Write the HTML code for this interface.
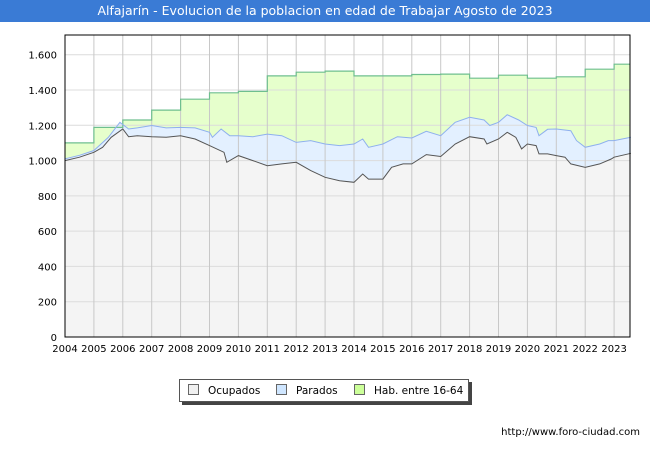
<!DOCTYPE html>
<html><head><meta charset="utf-8"><style>
body{margin:0;background:#fff;font-family:"DejaVu Sans","Liberation Sans",sans-serif}
#wrap{position:relative;width:650px;height:450px;overflow:hidden}
#title{position:absolute;left:0;top:0;width:650px;height:22px;background:#3a7bd5;color:#fff;font-size:12.5px;line-height:22px;text-align:center;white-space:nowrap}
#foot{position:absolute;right:10px;top:427px;font-size:10px;color:#000}
#legend{position:absolute;left:179px;top:379px;width:288px;height:21px;border:1px solid #555;background:#fff;box-shadow:3px 3px 0 #444;font-size:10.5px;white-space:nowrap}
.li{position:absolute;top:4px;white-space:nowrap}
.sw{display:inline-block;width:9px;height:9px;border:1px solid #666;margin-right:9px;vertical-align:-1px}
</style></head><body>
<div id="wrap">
<div id="title">Alfajarín - Evolucion de la poblacion en edad de Trabajar Agosto de 2023</div>
<svg id="svg" width="650" height="450" style="position:absolute;left:0;top:0"></svg>
<div id="legend">
<span class="li" style="left:8px"><span class="sw" style="background:#f0f0f0"></span>Ocupados</span>
<span class="li" style="left:96px"><span class="sw" style="background:#cfe6ff"></span>Parados</span>
<span class="li" style="left:174px"><span class="sw" style="background:#ccff99"></span>Hab. entre 16-64</span>
</div>
<div id="foot">http://www.foro-ciudad.com</div>
</div>
<script>
const habYears=[2004,2005,2006,2007,2008,2009,2010,2011,2012,2013,2014,2015,2016,2017,2018,2019,2020,2021,2022,2023];
const habValues=[1100,1188,1230,1286,1348,1384,1392,1480,1501,1507,1480,1480,1488,1490,1467,1484,1467,1475,1518,1546];
const blueT=[2004,2004.5,2005,2005.5,2005.9,2006.2,2006.5,2007,2007.5,2008,2008.5,2009,2009.1,2009.4,2009.7,2010,2010.5,2011,2011.5,2012,2012.5,2013,2013.5,2014,2014.3,2014.5,2015,2015.5,2016,2016.5,2017,2017.5,2018,2018.5,2018.7,2019,2019.3,2019.7,2020,2020.3,2020.4,2020.7,2021,2021.5,2021.7,2022,2022.5,2022.8,2023,2023.58];
const blueV=[1010,1030,1057,1132,1217,1179,1185,1199,1185,1188,1185,1160,1132,1179,1141,1141,1135,1150,1141,1103,1113,1094,1085,1094,1122,1075,1094,1135,1128,1166,1141,1217,1245,1230,1199,1217,1260,1230,1199,1188,1141,1177,1179,1169,1113,1075,1094,1113,1113,1132];
const grayT=[2004,2004.5,2005,2005.3,2005.6,2006,2006.2,2006.5,2007,2007.5,2008,2008.5,2009,2009.5,2009.6,2010,2010.5,2011,2011.5,2012,2012.5,2013,2013.5,2014,2014.3,2014.5,2015,2015.3,2015.7,2016,2016.5,2017,2017.5,2018,2018.5,2018.6,2019,2019.3,2019.6,2019.8,2020,2020.3,2020.4,2020.7,2021,2021.3,2021.5,2022,2022.5,2022.9,2023,2023.58];
const grayV=[1000,1019,1047,1075,1132,1179,1135,1141,1135,1132,1141,1122,1085,1047,990,1028,1000,971,981,990,943,905,886,877,924,895,895,962,981,981,1034,1023,1094,1135,1122,1094,1122,1160,1132,1066,1094,1085,1038,1038,1028,1019,981,962,981,1009,1019,1041];
const yTicks=[0,200,400,600,800,1000,1200,1400,1600];
const xTicks=[2004,2005,2006,2007,2008,2009,2010,2011,2012,2013,2014,2015,2016,2017,2018,2019,2020,2021,2022,2023];
const L=65,R=630,T=35,B=337,t0=2004,t1=2023.55;
const X=t=>L+(t-t0)/(t1-t0)*(R-L);
const Y=v=>B-v/1600*(B-54.7);
const svg=document.getElementById('svg');const NS='http://www.w3.org/2000/svg';
function mk(tag,at,name){const e=document.createElementNS(NS,tag);for(const k in at)e.setAttribute(k,at[k]);


svg.appendChild(e);return e;}
mk('rect',{x:L,y:T,width:R-L,height:B-T,fill:'#fff'},'plot-background');
let hp=[];habYears.forEach((y,i)=>{const x0=X(Math.max(y,t0)),x1=X(i<habYears.length-1?habYears[i+1]:t1);hp.push([x0,Y(habValues[i])],[x1,Y(habValues[i])]);});
const line=p=>p.map((q,i)=>(i?'L':'M')+q[0].toFixed(1)+','+q[1].toFixed(1)).join('');
const bp=blueT.map((t,i)=>[X(t),Y(blueV[i])]);
const gp=grayT.map((t,i)=>[X(t),Y(grayV[i])]);
mk('path',{d:line(hp)+'L'+X(t1)+','+B+'L'+L+','+B+'Z',fill:'#e6ffcc'},'area-hab');
mk('path',{d:line(bp)+'L'+X(t1)+','+B+'L'+L+','+B+'Z',fill:'#e3f0ff'},'area-parados');
mk('path',{d:line(gp)+'L'+X(t1)+','+B+'L'+L+','+B+'Z',fill:'#f4f4f4'},'area-ocupados');
yTicks.forEach(v=>{if(v>0)mk('line',{x1:L,x2:R,y1:Y(v),y2:Y(v),stroke:'#dcdcdc','stroke-width':1},'y-gridline');
const t=mk('text',{x:L-8,y:Y(v)+4,'text-anchor':'end','font-size':10,fill:'#000','font-family':'DejaVu Sans, Liberation Sans, sans-serif'},'y-tick-label');t.textContent=v.toLocaleString('de-DE');});
xTicks.forEach(v=>{if(v>t0)mk('line',{x1:X(v),x2:X(v),y1:T,y2:B,stroke:'#c8c8c8','stroke-width':1},'x-gridline');
const t=mk('text',{x:X(v),y:B+15,'text-anchor':'middle','font-size':10,fill:'#000','font-family':'DejaVu Sans, Liberation Sans, sans-serif'},'x-tick-label');t.textContent=v;});
mk('path',{d:line(hp),fill:'none',stroke:'#6fbf8f','stroke-width':1.2},'line-hab');
mk('path',{d:line(bp),fill:'none',stroke:'#8fb0ee','stroke-width':1},'line-parados');
mk('path',{d:line(gp),fill:'none',stroke:'#555','stroke-width':1},'line-ocupados');
mk('rect',{x:L,y:T,width:R-L,height:B-T,fill:'none',stroke:'#000','stroke-width':1},'plot-border');
</script>
</body></html>
